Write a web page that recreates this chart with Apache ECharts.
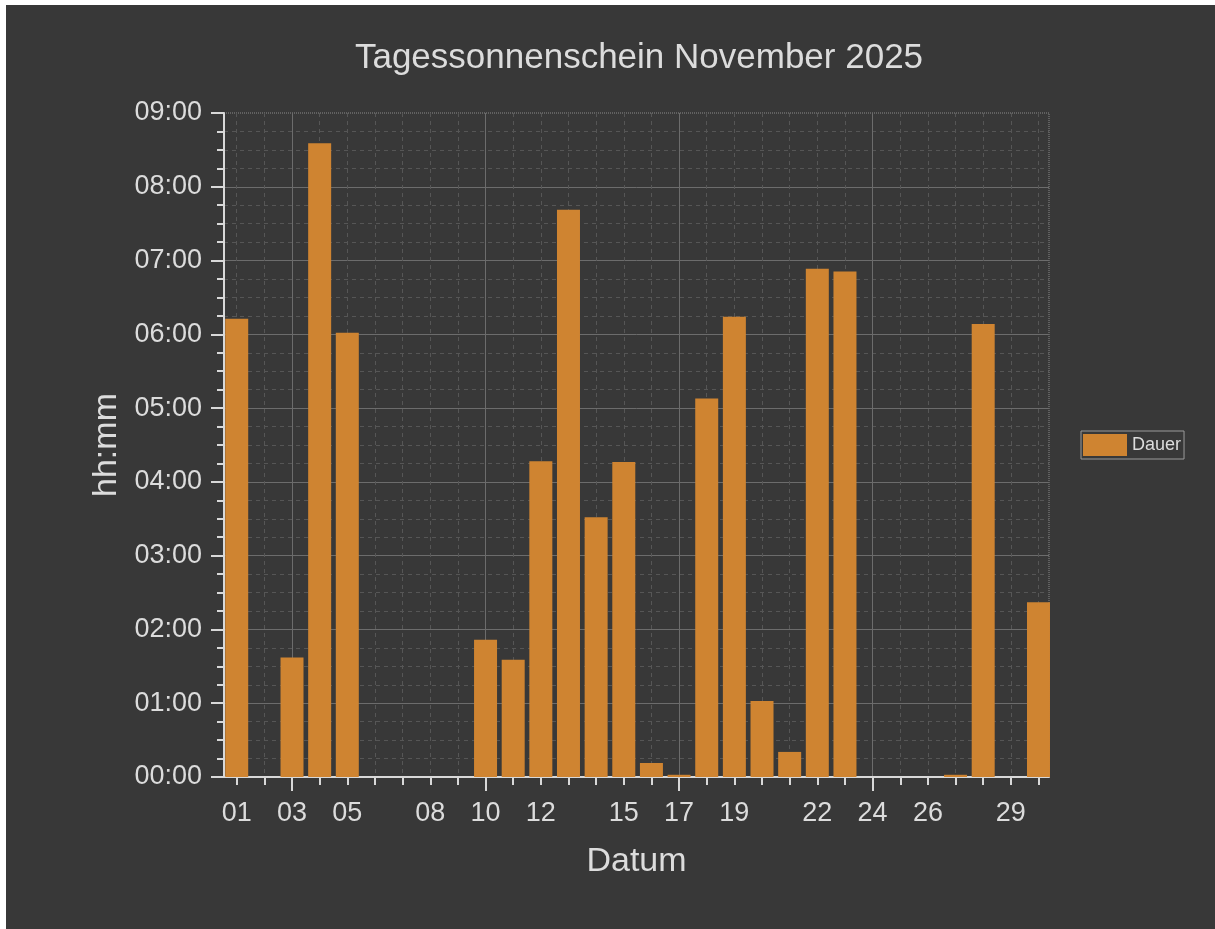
<!DOCTYPE html>
<html>
<head>
<meta charset="utf-8">
<script src="https://cdn.jsdelivr.net/npm/echarts@6/dist/echarts.min.js"></script>
<style>
html,body{margin:0;padding:0;background:#ffffff;}
#c{position:absolute;left:6px;top:5px;width:1209px;height:924px;}
</style>
</head>
<body>
<div id="c"></div>
<script>
// ---- data ----
const days = [1,2,3,4,5,6,7,8,9,10,11,12,13,14,15,16,17,18,19,20,21,22,23,24,25,26,27,28,29,30];
// sunshine duration in hours per day
const sunshineHours = [6.21,0,1.62,8.59,6.02,0,0,0,0,1.86,1.59,4.28,7.69,3.52,4.27,0.19,0.03,5.13,6.24,1.03,0.34,6.89,6.85,0,0,0,0.03,6.14,0,2.37];
const xLabelDays = [1,3,5,8,10,12,15,17,19,22,24,26,29];
const weekStartDays = [3,10,17,24];
const yTickLabels = ['00:00','01:00','02:00','03:00','04:00','05:00','06:00','07:00','08:00','09:00'];
const seriesName = 'Dauer';

const TXT = '#dcdcdc';
const FONT = 'Liberation Sans, Arial, sans-serif';
const X_MIN = 0.54, X_MAX = 30.38;

const chart = echarts.init(document.getElementById('c'));
chart.setOption({
  backgroundColor: '#383838',
  animation: false,
  textStyle: { fontFamily: FONT },
  title: {
    text: 'Tagessonnenschein November 2025',
    left: 633, top: 36, textAlign: 'center', padding: 0,
    textStyle: { color: TXT, fontSize: 35, fontWeight: 'normal', fontFamily: FONT }
  },
  legend: {
    data: [seriesName],
    orient: 'vertical',
    left: 1075, top: 426,
    padding: [3, 3, 3, 2],
    borderColor: '#9a9a9a', borderWidth: 1,
    itemWidth: 44, itemHeight: 22, itemGap: 5,
    icon: 'rect',
    textStyle: { color: TXT, fontSize: 18, fontFamily: FONT, padding: [0,0,0,0] }
  },
  grid: {
    left: 218, top: 108, right: 166, bottom: 152,
    show: true, borderColor: '#8a8a8a', borderWidth: 1, borderType: 'dotted',
    backgroundColor: 'transparent'
  },
  xAxis: [{
    type: 'value', min: X_MIN, max: X_MAX, position: 'bottom',
    name: 'Datum', nameLocation: 'middle', nameGap: 68,
    nameTextStyle: { color: TXT, fontSize: 34, fontFamily: FONT },
    axisLine: { show: true, onZero: false, lineStyle: { color: '#d8d8d8', width: 2 } },
    axisTick: { show: true, customValues: days, length: 8, lineStyle: { color: '#d8d8d8', width: 2 } },
    axisLabel: { customValues: xLabelDays, color: TXT, fontSize: 27, margin: 23, fontFamily: FONT,
      formatter: v => String(Math.round(v)).padStart(2, '0') },
    splitLine: { show: true, lineStyle: { color: '#565656', width: 1, type: [4, 4] } }
  }, {
    type: 'value', min: X_MIN, max: X_MAX, position: 'bottom',
    axisLine: { show: false },
    axisTick: { show: true, customValues: weekStartDays, length: 14, lineStyle: { color: '#d8d8d8', width: 2 } },
    axisLabel: { show: false },
    splitLine: { show: true, lineStyle: { color: '#6c6c6c', width: 1, type: 'solid' } }
  }],
  yAxis: {
    type: 'value', min: 0, max: 9, interval: 1,
    name: 'hh:mm', nameLocation: 'middle', nameGap: 100, nameRotate: 90,
    nameTextStyle: { color: TXT, fontSize: 34, fontFamily: FONT },
    axisLine: { show: true, lineStyle: { color: '#d8d8d8', width: 2 } },
    axisTick: { show: true, length: 13, lineStyle: { color: '#d8d8d8', width: 2 } },
    minorTick: { show: true, splitNumber: 4, length: 7, lineStyle: { color: '#d8d8d8', width: 2 } },
    axisLabel: { color: TXT, fontSize: 27, margin: 22, fontFamily: FONT,
      formatter: v => yTickLabels[Math.round(v)] },
    splitLine: { show: true, lineStyle: { color: ['#6c6c6c','#6c6c6c','#6c6c6c','#6c6c6c','#6c6c6c','#6c6c6c','#6c6c6c','#6c6c6c','#6c6c6c','transparent'], width: 1 } },
    minorSplitLine: { show: true, lineStyle: { color: '#565656', width: 1, type: [4, 4] } }
  },
  series: [{
    name: seriesName,
    type: 'bar',
    xAxisIndex: 0,
    barWidth: 23,
    itemStyle: { color: '#CF8431' },
    data: days.map((d, i) => [d, sunshineHours[i]])
  }]
});
</script>
</body>
</html>
